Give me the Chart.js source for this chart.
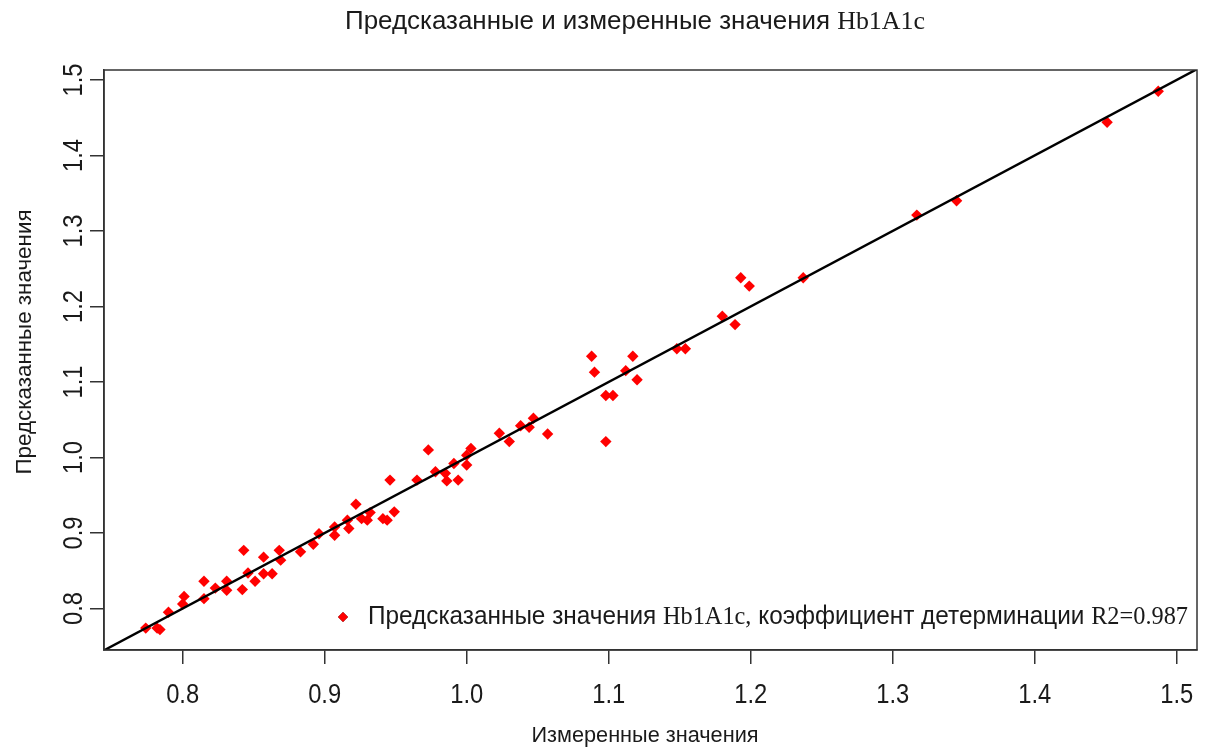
<!DOCTYPE html>
<html lang="ru">
<head>
<meta charset="utf-8">
<title>Hb1A1c</title>
<script src="https://cdn.jsdelivr.net/npm/chart.js@4.4.1/dist/chart.umd.min.js"></script>
<style>
  html, body { margin: 0; padding: 0; background: #fff; }
  #wrap { width: 1211px; height: 753px; }
</style>
</head>
<body>
<div id="wrap"><canvas id="hbChart" width="1211" height="753"></canvas></div>
<script>
// Измеренные значения (ось X)
const measuredValues = [
  0.774, 0.782, 0.784, 0.790, 0.801, 0.800, 0.815, 0.815, 0.823, 0.831,
  0.831, 0.842, 0.843, 0.846, 0.851, 0.857, 0.863, 0.857, 0.868, 0.869,
  0.883, 0.892, 0.896, 0.907, 0.907, 0.916, 0.917, 0.922, 0.926, 0.930,
  0.932, 0.941, 0.944, 0.949, 0.946, 0.965, 0.973, 0.978, 0.985, 0.986,
  0.994, 0.991, 1.000, 1.000, 1.003, 1.023, 1.030, 1.038, 1.044, 1.047,
  1.057, 1.088, 1.090, 1.098, 1.103, 1.098, 1.112, 1.117, 1.120, 1.148,
  1.154, 1.180, 1.189, 1.193, 1.199, 1.237, 1.317, 1.345, 1.451, 1.487
];
// Предсказанные значения (ось Y)
const predictedValues = [
  0.774, 0.774, 0.772, 0.795, 0.816, 0.806, 0.836, 0.813, 0.827, 0.836,
  0.824, 0.825, 0.877, 0.847, 0.836, 0.846, 0.846, 0.868, 0.877, 0.864,
  0.875, 0.885, 0.899, 0.908, 0.897, 0.917, 0.906, 0.938, 0.919, 0.917,
  0.927, 0.919, 0.917, 0.928, 0.970, 0.970, 1.010, 0.981, 0.979, 0.969,
  0.970, 0.992, 0.990, 1.003, 1.012, 1.032, 1.021, 1.042, 1.040, 1.052,
  1.031, 1.134, 1.113, 1.082, 1.082, 1.021, 1.115, 1.134, 1.103, 1.144,
  1.144, 1.187, 1.176, 1.238, 1.227, 1.238, 1.321, 1.340, 1.444, 1.485
];
// Линия y = x (концы за пределами области, обрезаются)
const fitLine = [0.7, 1.6];
// Подписи делений
const xTicks = [0.8, 0.9, 1.0, 1.1, 1.2, 1.3, 1.4, 1.5];
const yTicks = [0.8, 0.9, 1.0, 1.1, 1.2, 1.3, 1.4, 1.5];

const titleText = [
  { t: 'Предсказанные и измеренные значения ', serif: false },
  { t: 'Hb1A1c', serif: true }
];
const legendText = [
  { t: 'Предсказанные значения ', serif: false },
  { t: 'Hb1A1c,', serif: true },
  { t: ' коэффициент детерминации ', serif: false },
  { t: 'R2=0.987', serif: true }
];
const xTitle = 'Измеренные значения';
const yTitle = 'Предсказанные значения';

const SANS = '"Liberation Sans", Arial, sans-serif';
const SERIF = '"Liberation Serif", "Times New Roman", serif';
const TEXT_COLOR = '#1a1a1a';

// Рисует строку из кусков разных шрифтов, растянутую/сжатую до нужной ширины
function drawParts(ctx, parts, size, width, align) {
  let total = 0;
  const widths = parts.map(p => {
    ctx.font = size + 'px ' + (p.serif ? SERIF : SANS);
    const w = ctx.measureText(p.t).width;
    total += w;
    return w;
  });
  const k = width ? width / total : 1;
  ctx.save();
  ctx.scale(k, 1);
  let x = align === 'center' ? -total / 2 : 0;
  parts.forEach((p, i) => {
    ctx.font = size + 'px ' + (p.serif ? SERIF : SANS);
    ctx.fillText(p.t, x, 0);
    x += widths[i];
  });
  ctx.restore();
}

// Подпись деления, слегка сжатая по ширине
function drawTickLabel(ctx, text) {
  ctx.save();
  ctx.scale(0.88, 1);
  ctx.fillText(text, 0, 0);
  ctx.restore();
}

// Плагин: рамка, подписи делений, заголовки, легенда
const decorPlugin = {
  id: 'decor',
  afterDraw(chart) {
    const ctx = chart.ctx;
    const area = chart.chartArea;
    const xs = chart.scales.x;
    const ys = chart.scales.y;

    // рамка вокруг области графика
    ctx.save();
    ctx.strokeStyle = '#333';
    ctx.lineWidth = 1.5;
    ctx.strokeRect(area.left, area.top, area.right - area.left, area.bottom - area.top);
    ctx.restore();

    ctx.save();
    ctx.fillStyle = TEXT_COLOR;
    ctx.textBaseline = 'alphabetic';

    // подписи оси X
    ctx.textAlign = 'center';
    ctx.font = '27px ' + SANS;
    xTicks.forEach(v => {
      ctx.save();
      ctx.translate(xs.getPixelForValue(v), 703);
      drawTickLabel(ctx, v.toFixed(1));
      ctx.restore();
    });

    // подписи оси Y (повернуты)
    yTicks.forEach(v => {
      ctx.save();
      ctx.translate(82, ys.getPixelForValue(v));
      ctx.rotate(-Math.PI / 2);
      drawTickLabel(ctx, v.toFixed(1));
      ctx.restore();
    });

    ctx.textAlign = 'left';

    // заголовок
    ctx.save();
    ctx.translate(635, 28.5);
    drawParts(ctx, titleText, 25, 580, 'center');
    ctx.restore();

    // название оси X
    ctx.save();
    ctx.translate(645, 742);
    drawParts(ctx, [{ t: xTitle, serif: false }], 22, 227, 'center');
    ctx.restore();

    // название оси Y
    ctx.save();
    ctx.translate(31, 342);
    ctx.rotate(-Math.PI / 2);
    drawParts(ctx, [{ t: yTitle, serif: false }], 22, 265, 'center');
    ctx.restore();

    // легенда
    Chart.helpers.drawPoint(ctx, { pointStyle: 'rectRot', radius: 5, rotation: 0 }, 343, 617);
    ctx.fillStyle = '#ff0000';
    ctx.fill();
    ctx.fillStyle = TEXT_COLOR;
    ctx.save();
    ctx.translate(368, 623.5);
    drawParts(ctx, legendText, 25, 820, 'left');
    ctx.restore();

    ctx.restore();
  }
};

document.addEventListener('DOMContentLoaded', function () {
  const points = measuredValues.map((x, i) => ({ x: x, y: predictedValues[i] }));
  const linePoints = fitLine.map(v => ({ x: v, y: v }));

  new Chart(document.getElementById('hbChart'), {
    type: 'scatter',
    data: {
      datasets: [
        {
          type: 'line',
          label: 'y = x',
          data: linePoints,
          borderColor: '#000',
          borderWidth: 2.5,
          pointRadius: 0,
          fill: false
        },
        {
          label: 'Предсказанные значения Hb1A1c',
          data: points,
          pointStyle: 'rectRot',
          pointRadius: 5.7,
          pointHoverRadius: 5.7,
          backgroundColor: '#ff0000',
          borderWidth: 0
        }
      ]
    },
    options: {
      responsive: false,
      animation: false,
      events: [],
      layout: {
        padding: { top: 70, right: 14, left: 0, bottom: 0 }
      },
      plugins: {
        legend: { display: false },
        title: { display: false },
        tooltip: { enabled: false }
      },
      scales: {
        x: {
          type: 'linear',
          min: 0.7446,
          max: 1.5143,
          afterBuildTicks: function (scale) {
            scale.ticks = xTicks.map(v => ({ value: v }));
          },
          afterFit: function (scale) {
            scale.height = 103;
          },
          ticks: { display: false },
          grid: {
            drawOnChartArea: false,
            drawTicks: true,
            tickLength: 14,
            color: '#333',
            lineWidth: 1.5
          },
          border: { display: true, color: '#333', width: 1.5 }
        },
        y: {
          type: 'linear',
          min: 0.745,
          max: 1.5132,
          afterBuildTicks: function (scale) {
            scale.ticks = yTicks.map(v => ({ value: v }));
          },
          afterFit: function (scale) {
            scale.width = 104;
          },
          ticks: { display: false },
          grid: {
            drawOnChartArea: false,
            drawTicks: true,
            tickLength: 14,
            color: '#333',
            lineWidth: 1.5
          },
          border: { display: true, color: '#333', width: 1.5 }
        }
      }
    },
    plugins: [decorPlugin]
  });
});
</script>
</body>
</html>
